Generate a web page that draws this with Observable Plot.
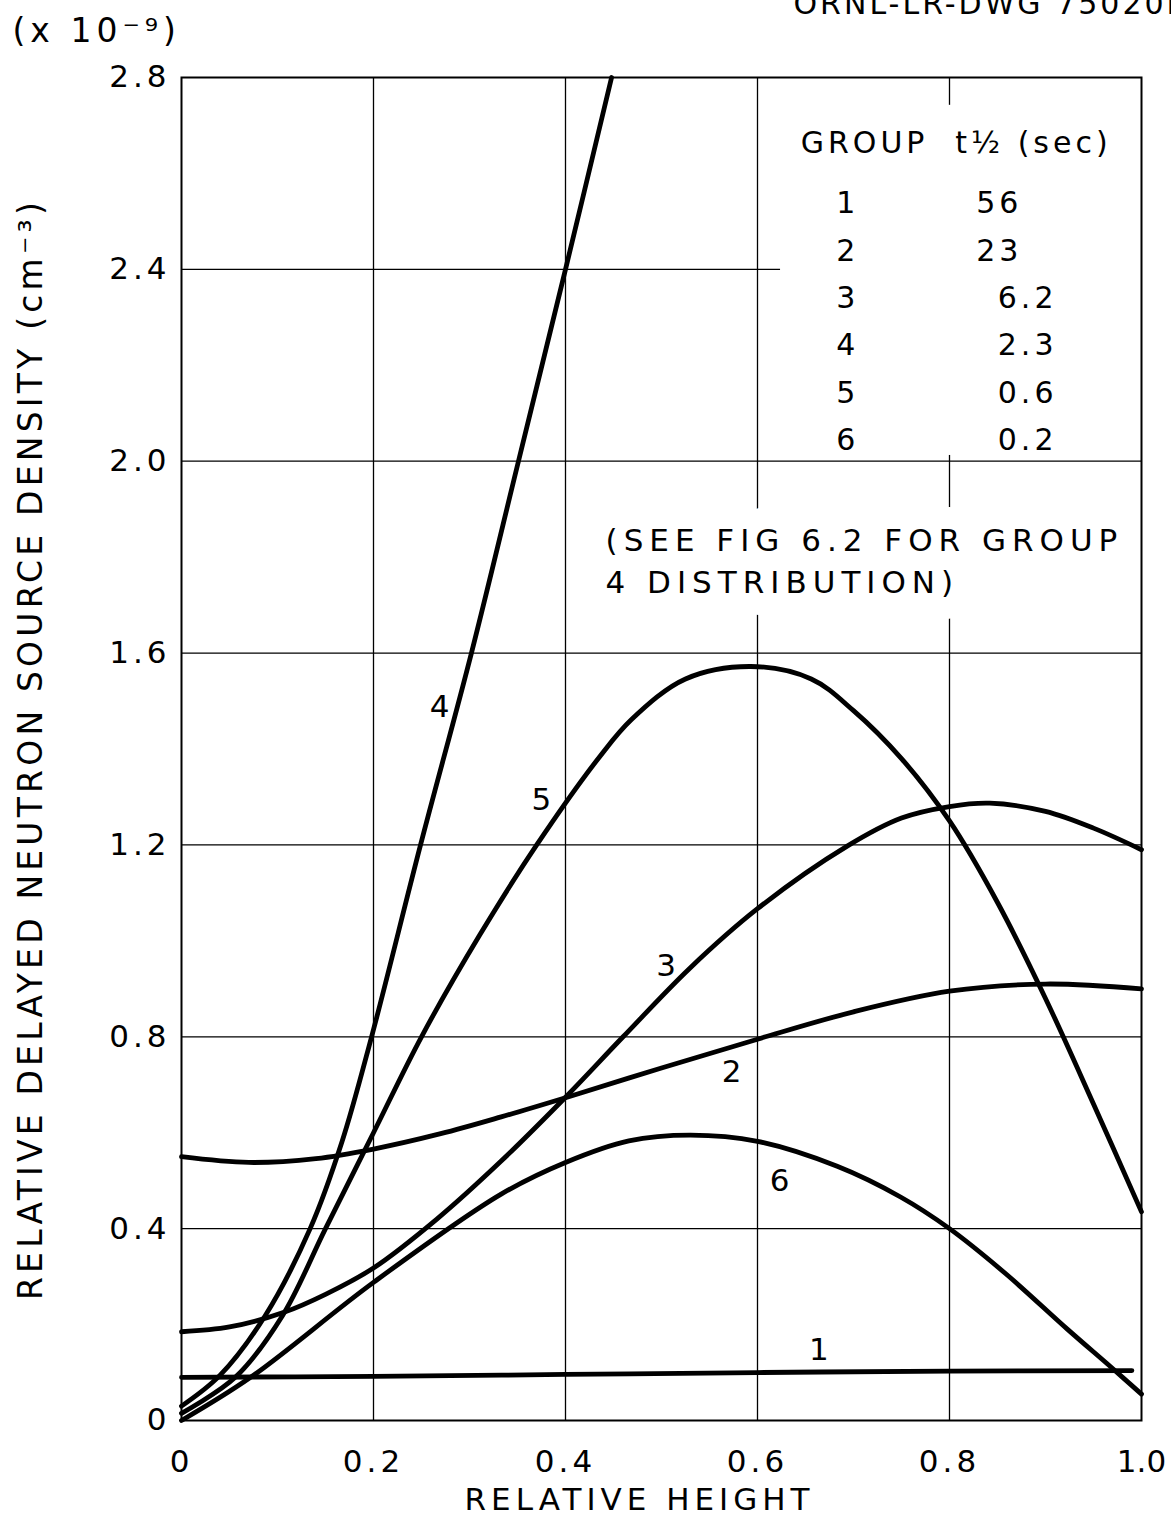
<!DOCTYPE html>
<html>
<head>
<meta charset="utf-8">
<script src="https://cdn.jsdelivr.net/npm/d3@7"></script>
<script src="https://cdn.jsdelivr.net/npm/@observablehq/plot@0.6"></script>
<style>
  html, body { margin: 0; padding: 0; background: #fff; }
  #chart svg text { letter-spacing: 4px; }
</style>
</head>
<body>
<div id="chart"></div>
<script>
// ---- axis ticks ----
const xTicks = [0, 0.2, 0.4, 0.6, 0.8, 1.0];
const xTickLabels = ["0", "0.2", "0.4", "0.6", "0.8", "1.0"];
const yTicks = [0, 0.4, 0.8, 1.2, 1.6, 2.0, 2.4, 2.8];
const yTickLabels = ["0", "0.4", "0.8", "1.2", "1.6", "2.0", "2.4", "2.8"];

// ---- series (relative height vs source density, x 1e-9) ----
const g1x = [0, 0.2, 0.4, 0.6, 0.8, 0.99];
const g1y = [0.09, 0.092, 0.096, 0.1, 0.103, 0.104];

const g2x = [0, 0.07, 0.14, 0.2, 0.27, 0.333, 0.4, 0.5, 0.6, 0.7, 0.8, 0.9, 1.0];
const g2y = [0.55, 0.538, 0.546, 0.566, 0.598, 0.633, 0.673, 0.735, 0.795, 0.852, 0.895, 0.91, 0.9];

const g3x = [0, 0.05, 0.106, 0.15, 0.2, 0.266, 0.333, 0.4, 0.46, 0.529, 0.6, 0.693, 0.75, 0.8, 0.842, 0.9, 0.95, 1.0];
const g3y = [0.185, 0.195, 0.225, 0.263, 0.318, 0.42, 0.541, 0.674, 0.8, 0.942, 1.067, 1.197, 1.256, 1.28, 1.287, 1.27, 1.235, 1.19];

const g4x = [0, 0.04, 0.087, 0.134, 0.167, 0.198, 0.249, 0.302, 0.351, 0.4, 0.448];
const g4y = [0.03, 0.094, 0.218, 0.4, 0.58, 0.8, 1.2, 1.6, 2.0, 2.4, 2.8];

const g5x = [0, 0.056, 0.105, 0.15, 0.2, 0.25, 0.31, 0.37, 0.436, 0.469, 0.525, 0.593, 0.656, 0.7, 0.75, 0.8, 0.85, 0.9, 0.95, 1.0];
const g5y = [0.015, 0.09, 0.218, 0.4, 0.6, 0.8, 1.01, 1.2, 1.385, 1.462, 1.546, 1.572, 1.546, 1.48, 1.38, 1.25, 1.08, 0.88, 0.66, 0.435];

const g6x = [0, 0.072, 0.2, 0.333, 0.4, 0.466, 0.53, 0.6, 0.683, 0.749, 0.8, 0.858, 0.923, 0.969, 1.0];
const g6y = [0, 0.09, 0.288, 0.472, 0.538, 0.583, 0.595, 0.582, 0.53, 0.466, 0.4, 0.307, 0.19, 0.11, 0.055];

// ---- curve labels ----
const groups = ["1", "2", "3", "4", "5", "6"];
const labelX = [0.666, 0.575, 0.507, 0.271, 0.377, 0.625];
const labelY = [0.146, 0.727, 0.947, 1.487, 1.293, 0.5];

// ---- legend table ----
const halfLives = ["56", "23", "6.2", "2.3", "0.6", "0.2"];
const noteLines = ["(SEE FIG 6.2 FOR GROUP", "4 DISTRIBUTION)"];

const yTitle = "RELATIVE DELAYED NEUTRON SOURCE DENSITY (cm⁻³)";
const xTitle = "RELATIVE HEIGHT";
const multiplier = "(x 10⁻⁹)";
const drawingNo = "ORNL-LR-DWG 75020R";

const series = [
  [g1x, g1y], [g2x, g2y], [g3x, g3y], [g4x, g4y], [g5x, g5y], [g6x, g6y]
];
const rows = series.flatMap(([xs, ys], k) => xs.map((x, i) => ({g: groups[k], x, y: ys[i]})));
const labels = groups.map((g, i) => ({g, x: labelX[i], y: labelY[i]}));
const legendRows = groups.map((g, i) => ({g, t: halfLives[i], i}));

const font = "'DejaVu Sans', sans-serif";
const noteOpts = {text: d => d, x: 0.4417, y: (d, i) => 1.833 - i * 0.088, textAnchor: "start"};

const chart = Plot.plot({
  width: 1171,
  height: 1540,
  marginTop: 77,
  marginBottom: 120,
  marginLeft: 181,
  marginRight: 30,
  style: {fontFamily: font, fontSize: "31px", color: "black", background: "white"},
  x: {domain: [0, 1], ticks: xTicks, tickFormat: d => xTickLabels[xTicks.indexOf(d)], tickSize: 0, tickPadding: 29, label: null},
  y: {domain: [0, 2.8], ticks: yTicks, tickFormat: d => yTickLabels[yTicks.indexOf(d)], tickSize: 0, tickPadding: 11, label: null},
  marks: [
    Plot.ruleX(xTicks.slice(1, -1), {stroke: "black", strokeWidth: 1.3}),
    Plot.ruleY(yTicks.slice(1, -1), {stroke: "black", strokeWidth: 1.3}),
    // blank area behind the legend table
    Plot.rect([0], {x1: 0.624, x2: 1.0, y1: 2.012, y2: 2.742, fill: "white"}),
    // note: white backing, then the lettering
    Plot.text(noteLines, {...noteOpts, fontSize: 31, fill: "white", stroke: "white", strokeWidth: 44, strokeLinejoin: "round"}),
    Plot.text(noteLines, {...noteOpts, fontSize: 31, fill: "black"}),
    Plot.line(rows, {x: "x", y: "y", z: "g", stroke: "black", strokeWidth: 4.8, curve: "catmull-rom", strokeLinecap: "round"}),
    Plot.frame({stroke: "black", strokeWidth: 2}),
    Plot.text(labels, {x: "x", y: "y", text: "g", fill: "black", fontSize: 31}),
    // legend table
    Plot.text(["GROUP"], {text: d => d, x: 0.645, y: 2.663, textAnchor: "start", fontSize: 30}),
    Plot.text(["t½ (sec)"], {text: d => d, x: 0.806, y: 2.663, textAnchor: "start", fontSize: 30}),
    Plot.text(legendRows, {text: "g", x: 0.694, y: d => 2.537 - d.i * 0.0988, fontSize: 30}),
    Plot.text(legendRows, {text: "t", x: d => d.t.includes(".") ? 0.9125 : 0.876, y: d => 2.537 - d.i * 0.0988, textAnchor: "end", fontSize: 30}),
    // axis titles and annotations
    Plot.text([yTitle], {text: d => d, frameAnchor: "left", rotate: -90, dx: -150, textAnchor: "middle", lineAnchor: "middle", fontSize: 33}),
    Plot.text([xTitle], {text: d => d, frameAnchor: "bottom", dx: -22, dy: 80, lineAnchor: "middle", fontSize: 31}),
    Plot.text([multiplier], {text: d => d, frameAnchor: "top-left", dx: -169, dy: -46, textAnchor: "start", lineAnchor: "middle", fontSize: 33}),
    Plot.text([drawingNo], {text: d => d, frameAnchor: "top-left", dx: 612, dy: -64, textAnchor: "start", lineAnchor: "bottom", fontSize: 30})
  ]
});

// per-text letter spacing to match the wide draughting lettering
const spacing = new Map([[yTitle, 4.2], [xTitle, 5], [noteLines[0], 6], [noteLines[1], 6], [multiplier, 5], ["1.0", 0], [drawingNo, 3]]);
d3.select(chart).selectAll("text").each(function () {
  const s = spacing.get(this.textContent);
  if (s !== undefined) this.style.letterSpacing = s + "px";
});

document.getElementById("chart").appendChild(chart);
</script>
</body>
</html>
